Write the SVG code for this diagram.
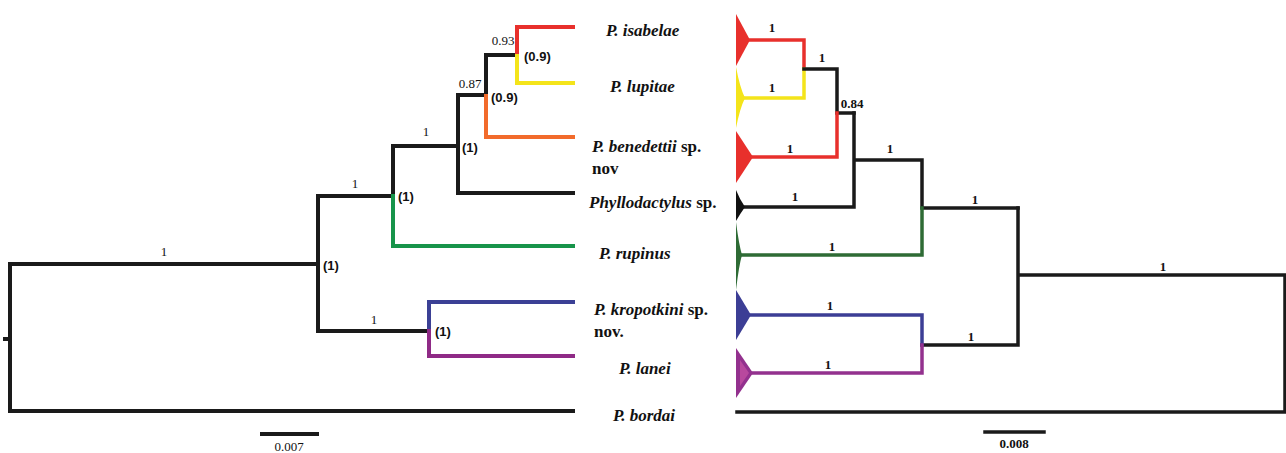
<svg xmlns="http://www.w3.org/2000/svg" width="1286" height="453" viewBox="0 0 1286 453">
<style>
.l{fill:none;stroke-width:4;stroke-linecap:square;stroke-linejoin:miter}
.r{fill:none;stroke-width:3.5;stroke-linecap:square;stroke-linejoin:miter}
.k{stroke:#1a1a1a}
.taxon{font-family:'Liberation Serif','Times New Roman','DejaVu Serif',serif;font-weight:700;font-style:italic;font-size:17px;fill:#111}
.n{font-style:normal}
.sup{font-family:'Liberation Serif','Times New Roman','DejaVu Serif',serif;font-size:13px;fill:#111}
.pp{font-family:'Liberation Sans',Arial,sans-serif;font-weight:700;font-size:13px;fill:#111}
.rs{font-family:'Liberation Serif','Times New Roman','DejaVu Serif',serif;font-weight:700;font-size:13px;fill:#111}
</style>
<rect width="1286" height="453" fill="#fff"/>
<g id="connectors">
<path class="l k" d="M10,264 H318 M10,264 V411 H573 M5,339 H10"/>
<path class="l k" d="M318,196 V331 M318,196 H393 M318,331 H429"/>
<path class="l k" d="M393,146 V196 M393,146 H458"/>
<path class="l" stroke="#17944a" d="M393,196 V246 H573"/>
<path class="l k" d="M458,95 V193 H573 M458,95 H486 M486,55 V96 M486,55 H517"/>
<path class="l" stroke="#f26b2b" d="M486,96 V137 H573"/>
<path class="l" stroke="#e8302c" d="M517,56 V27 H573"/>
<path class="l" stroke="#f4e41a" d="M517,56 V83 H573"/>
<path class="l" stroke="#3b4095" d="M429,331 V302 H573"/>
<path class="l" stroke="#8f2a86" d="M429,331 V356 H573"/>
<path class="l k" d="M262,434 H317"/>
<path class="r" stroke="#e8302c" d="M750,40 H804 V69"/>
<path class="r" stroke="#f4e41a" d="M745,98 H804 V69"/>
<path class="r k" d="M804,69 H837 V113 H854"/>
<path class="r" stroke="#e8302c" d="M753,157 H837 V113"/>
<path class="r k" d="M745,207 H854 V113 M854,160 H922 V208 H1018"/>
<path class="r" stroke="#2e6b35" d="M742,255 H922 V208"/>
<path class="r k" d="M1018,208 V345 H922 M1018,275 H1285 V412 H737"/>
<path class="r" stroke="#3c3e95" d="M751,315 H922 V345"/>
<path class="r" stroke="#93318e" d="M753,373 H922 V345"/>
<path class="r k" d="M985,432 H1044"/>
</g>
<g id="triangles">
<polygon fill="#e8302c" points="736,14 750,40 736,66"/>
<path fill="#f4e41a" d="M736,67 Q740,88 745,98 Q740,108 736,128 Z"/>
<polygon fill="#e8302c" points="736,131 753,157 736,183"/>
<path fill="#111" d="M736,190 Q740,200 745,207 Q740,214 736,221 Z"/>
<path fill="#2e6b35" d="M736,222 Q739,245 742,255 Q739,265 736,290 Z"/>
<polygon fill="#3c3e95" points="736,290 751,315 736,340"/>
<polygon fill="#93318e" points="736,348 753,373 736,398"/>
<polygon fill="#b8489e" points="740,360 749,373 740,386"/>
</g>
<g id="left-labels">
<text class="sup" x="503" y="45" text-anchor="middle">0.93</text>
<text class="sup" x="470" y="88" text-anchor="middle">0.87</text>
<text class="sup" x="426" y="136" text-anchor="middle">1</text>
<text class="sup" x="355" y="188" text-anchor="middle">1</text>
<text class="sup" x="164" y="256" text-anchor="middle">1</text>
<text class="sup" x="374" y="324" text-anchor="middle">1</text>
<text class="sup" x="289" y="451" text-anchor="middle">0.007</text>
<text class="pp" x="524" y="61">(0.9)</text>
<text class="pp" x="491" y="102">(0.9)</text>
<text class="pp" x="462" y="152">(1)</text>
<text class="pp" x="398" y="201">(1)</text>
<text class="pp" x="323" y="270">(1)</text>
<text class="pp" x="435" y="336">(1)</text>
</g>
<g id="taxa">
<text class="taxon" x="606" y="36">P. isabelae</text>
<text class="taxon" x="610" y="92">P. lupitae</text>
<text class="taxon" x="592" y="152">P. benedettii <tspan class="n">sp.</tspan></text>
<text class="taxon" x="592" y="174"><tspan class="n">nov</tspan></text>
<text class="taxon" x="589" y="208">Phyllodactylus <tspan class="n">sp.</tspan></text>
<text class="taxon" x="599" y="259">P. rupinus</text>
<text class="taxon" x="594" y="315">P. kropotkini <tspan class="n">sp.</tspan></text>
<text class="taxon" x="594" y="337"><tspan class="n">nov.</tspan></text>
<text class="taxon" x="619" y="374">P. lanei</text>
<text class="taxon" x="613" y="421">P. bordai</text>
</g>
<g id="right-labels">
<text class="rs" x="772" y="32" text-anchor="middle">1</text>
<text class="rs" x="772" y="92" text-anchor="middle">1</text>
<text class="rs" x="822" y="62" text-anchor="middle">1</text>
<text class="rs" x="852" y="108" text-anchor="middle">0.84</text>
<text class="rs" x="790" y="153" text-anchor="middle">1</text>
<text class="rs" x="890" y="153" text-anchor="middle">1</text>
<text class="rs" x="795" y="201" text-anchor="middle">1</text>
<text class="rs" x="975" y="204" text-anchor="middle">1</text>
<text class="rs" x="832" y="251" text-anchor="middle">1</text>
<text class="rs" x="1163" y="271" text-anchor="middle">1</text>
<text class="rs" x="830" y="310" text-anchor="middle">1</text>
<text class="rs" x="971" y="341" text-anchor="middle">1</text>
<text class="rs" x="828" y="369" text-anchor="middle">1</text>
<text class="rs" x="1014" y="448" text-anchor="middle">0.008</text>
</g>
</svg>
